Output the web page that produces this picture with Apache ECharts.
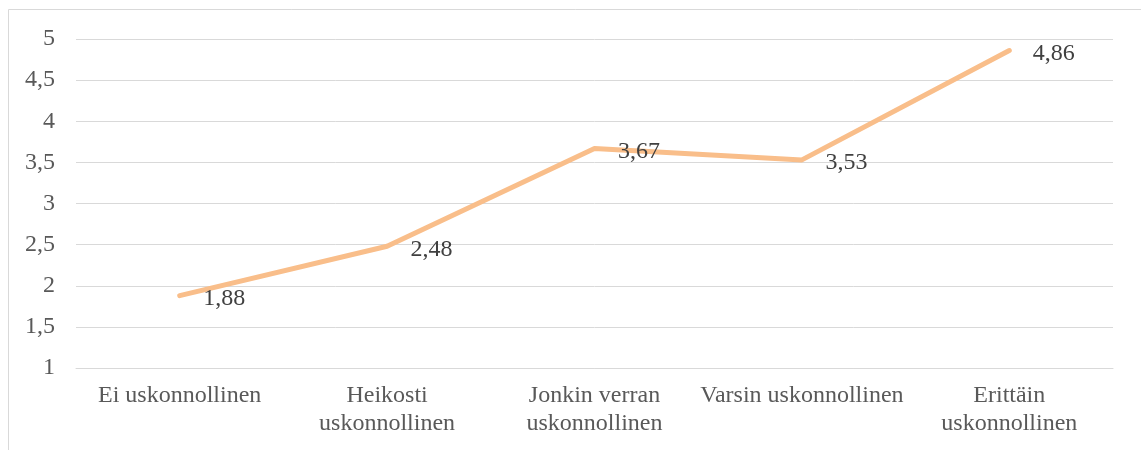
<!DOCTYPE html>
<html>
<head>
<meta charset="utf-8">
<script src="https://cdn.jsdelivr.net/npm/echarts@6/dist/echarts.min.js"></script>
<style>
html,body{margin:0;padding:0;background:#fff;}
#c{width:1141px;height:450px;}
</style>
</head>
<body>
<div id="c"></div>
<script>
const categories = ["Ei uskonnollinen", "Heikosti\nuskonnollinen", "Jonkin verran\nuskonnollinen", "Varsin uskonnollinen", "Erittäin\nuskonnollinen"];
const values = [1.88, 2.48, 3.67, 3.53, 4.86];
const yMin = 1, yMax = 5, yStep = 0.5;

const chart = echarts.init(document.getElementById('c'), null, {renderer: 'canvas'});
const font = '"Liberation Serif", "Times New Roman", serif';
chart.setOption({
  animation: false,
  graphic: [{
    type: 'rect',
    shape: {x: 8.5, y: 9.5, width: 1300, height: 600},
    style: {fill: 'none', stroke: '#d9d9d9', lineWidth: 1},
    silent: true
  }],
  grid: {left: 76, right: 28, top: 39, bottom: 82},
  xAxis: {
    type: 'category',
    data: categories,
    boundaryGap: true,
    axisLine: {show: true, lineStyle: {color: '#d9d9d9', width: 1}},
    axisTick: {show: false},
    axisLabel: {color: '#595959', fontFamily: font, fontSize: 24, lineHeight: 28, margin: 14, interval: 0}
  },
  yAxis: {
    type: 'value',
    min: yMin, max: yMax, interval: yStep,
    axisLine: {show: false},
    axisTick: {show: false},
    splitLine: {lineStyle: {color: '#d9d9d9', width: 1}},
    axisLabel: {color: '#595959', fontFamily: font, fontSize: 24, margin: 21,
      formatter: v => String(v).replace('.', ',')}
  },
  series: [{
    type: 'line',
    data: values,
    symbol: 'circle',
    symbolSize: 1,
    showSymbol: true,
    itemStyle: {color: 'rgba(0,0,0,0)'},
    lineStyle: {color: '#f9be8a', width: 5, cap: 'round', join: 'round'},
    label: {
      show: true, position: 'right', distance: 23, offset: [0, 3],
      color: '#404040', fontFamily: font, fontSize: 24,
      formatter: p => p.value.toFixed(2).replace('.', ',')
    }
  }]
});
</script>
</body>
</html>
